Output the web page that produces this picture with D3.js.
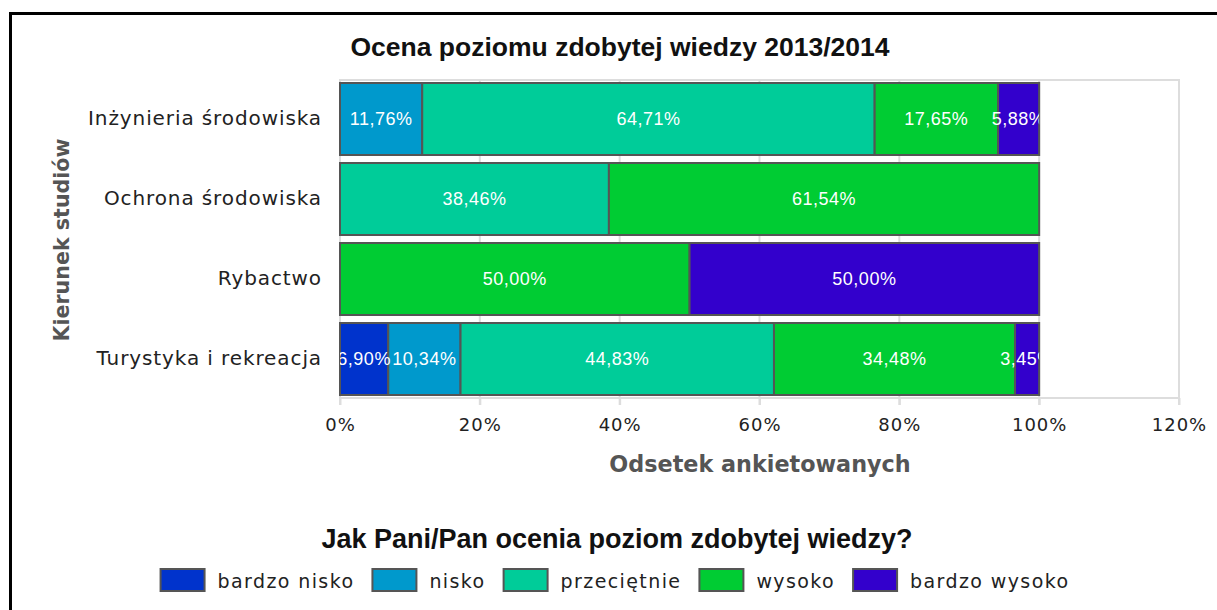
<!DOCTYPE html>
<html>
<head>
<meta charset="utf-8">
<script src="https://cdn.jsdelivr.net/npm/d3@7"></script>
<style>
  body { margin: 0; background: #fff; }
  svg { display: block; }
</style>
</head>
<body>
<svg id="chart" width="1217" height="610"></svg>
<script>
// chart data
const kierunki = ["Inżynieria środowiska", "Ochrona środowiska", "Rybactwo", "Turystyka i rekreacja"];
const oceny = ["bardzo nisko", "nisko", "przeciętnie", "wysoko", "bardzo wysoko"];
const kolory = ["#0033cc", "#0099cc", "#00cc99", "#00cc33", "#3300cc"];
const bardzoNisko = [0, 0, 0, 6.90];
const nisko = [11.76, 0, 0, 10.34];
const przecietnie = [64.71, 38.46, 0, 44.83];
const wysoko = [17.65, 61.54, 50.00, 34.48];
const bardzoWysoko = [5.88, 0, 50.00, 3.45];
const xTicks = [0, 20, 40, 60, 80, 100, 120];

const series = [bardzoNisko, nisko, przecietnie, wysoko, bardzoWysoko];

const svg = d3.select("#chart");

// frame (top and left only, rest is cut off)
svg.append("line").attr("x1", 9).attr("x2", 1217).attr("y1", 13.5).attr("y2", 13.5)
    .attr("stroke", "#000").attr("stroke-width", 3);
svg.append("line").attr("x1", 10.5).attr("x2", 10.5).attr("y1", 12).attr("y2", 610)
    .attr("stroke", "#000").attr("stroke-width", 3);

const x = d3.scaleLinear().domain([0, 120]).range([340, 1179]);
const y = d3.scaleBand().domain(kierunki).range([79, 399]).paddingInner(0.1).paddingOuter(0.05);

// gridlines
svg.append("g").selectAll("line")
    .data(xTicks)
    .enter().append("line")
    .attr("x1", d => x(d)).attr("x2", d => x(d))
    .attr("y1", 79).attr("y2", 405)
    .attr("stroke", "#dddddd").attr("stroke-width", 2);
svg.append("line").attr("x1", 339).attr("x2", 1180).attr("y1", 80).attr("y2", 80)
    .attr("stroke", "#dddddd").attr("stroke-width", 2);
svg.append("line").attr("x1", 339).attr("x2", 1180).attr("y1", 398).attr("y2", 398)
    .attr("stroke", "#dddddd").attr("stroke-width", 2);

// stacked bars
const table = kierunki.map((k, i) => {
    const row = { kierunek: k };
    oceny.forEach((o, j) => row[o] = series[j][i]);
    return row;
});
const stack = d3.stack().keys(oceny)(table);

// labels are clipped to the 0..100% area of their row
const defs = svg.append("defs");
kierunki.forEach((k, i) => {
    defs.append("clipPath").attr("id", "clip-row-" + i)
        .append("rect")
        .attr("x", x(0)).attr("y", y(k))
        .attr("width", x(100) - x(0)).attr("height", y.bandwidth());
});

const bars = svg.append("g");
const labels = svg.append("g");
stack.forEach((layer, j) => {
    layer.forEach((seg, i) => {
        const v = seg[1] - seg[0];
        if (v <= 0) return;
        const x0 = x(seg[0]), x1 = x(seg[1]);
        const yy = y(kierunki[i]), h = y.bandwidth();
        bars.append("rect")
            .attr("x", x0).attr("y", yy)
            .attr("width", x1 - x0).attr("height", h)
            .attr("fill", kolory[j])
            .attr("stroke", "#555").attr("stroke-width", 2);
        labels.append("text")
            .attr("clip-path", "url(#clip-row-" + i + ")")
            .attr("x", (x0 + x1) / 2)
            .attr("y", yy + h / 2 + 6)
            .attr("text-anchor", "middle")
            .attr("fill", "#fff")
            .style("font-family", "'Liberation Sans', Arial, sans-serif")
            .style("font-size", "18px")
            .style("letter-spacing", "0.5px")
            .text(v.toFixed(2).replace(".", ",") + "%");
    });
});

// x axis ticks and labels
const xAxis = svg.append("g").attr("transform", "translate(0,398)")
    .call(d3.axisBottom(x).tickValues(xTicks).tickFormat(d => d + "%").tickSize(7).tickPadding(13));
xAxis.select(".domain").remove();
xAxis.selectAll(".tick line").attr("stroke", "#dddddd").attr("stroke-width", 2);
xAxis.selectAll(".tick text")
    .attr("fill", "#222")
    .style("font-family", "'DejaVu Sans', sans-serif")
    .style("font-size", "18px")
    .style("letter-spacing", "1px");

// y axis labels
const yAxis = svg.append("g").attr("transform", "translate(340,0)")
    .call(d3.axisLeft(y).tickSize(0).tickPadding(18));
yAxis.select(".domain").remove();
yAxis.selectAll(".tick text")
    .attr("fill", "#222")
    .style("font-family", "'DejaVu Sans', sans-serif")
    .style("font-size", "20px")
    .style("letter-spacing", "0.9px");

// titles
svg.append("text")
    .attr("x", 620).attr("y", 56)
    .attr("text-anchor", "middle")
    .style("font-family", "'Liberation Sans', Arial, sans-serif")
    .style("font-weight", "bold")
    .style("font-size", "26.5px")
    .attr("fill", "#111")
    .text("Ocena poziomu zdobytej wiedzy 2013/2014");

svg.append("text")
    .attr("x", 760).attr("y", 472)
    .attr("text-anchor", "middle")
    .style("font-family", "'DejaVu Sans', sans-serif")
    .style("font-weight", "bold")
    .style("font-size", "22.3px")
    .attr("fill", "#555")
    .text("Odsetek ankietowanych");

svg.append("text")
    .attr("transform", "translate(69,240) rotate(-90)")
    .attr("text-anchor", "middle")
    .style("font-family", "'DejaVu Sans', sans-serif")
    .style("font-weight", "bold")
    .style("font-size", "20.6px")
    .attr("fill", "#555")
    .text("Kierunek studiów");

// legend
svg.append("text")
    .attr("x", 617).attr("y", 548)
    .attr("text-anchor", "middle")
    .style("font-family", "'Liberation Sans', Arial, sans-serif")
    .style("font-weight", "bold")
    .style("font-size", "27px")
    .attr("fill", "#111")
    .text("Jak Pani/Pan ocenia poziom zdobytej wiedzy?");

const legend = svg.append("g");
const items = legend.selectAll("g").data(oceny).enter().append("g");
items.append("rect")
    .attr("width", 44).attr("height", 22)
    .attr("y", 569)
    .attr("fill", (d, i) => kolory[i])
    .attr("stroke", "#555").attr("stroke-width", 2);
items.append("text")
    .attr("y", 588)
    .attr("x", 57)
    .style("font-family", "'DejaVu Sans', sans-serif")
    .style("font-size", "19px")
    .style("letter-spacing", "1.4px")
    .attr("fill", "#222")
    .text(d => d);

let lx = 0;
const gap = 18;
const widths = [];
items.each(function () {
    widths.push(57 + d3.select(this).select("text").node().getComputedTextLength());
});
const total = d3.sum(widths) + gap * (widths.length - 1);
lx = 615 - total / 2;
items.attr("transform", (d, i) => {
    const t = "translate(" + lx + ",0)";
    lx += widths[i] + gap;
    return t;
});
</script>
</body>
</html>
